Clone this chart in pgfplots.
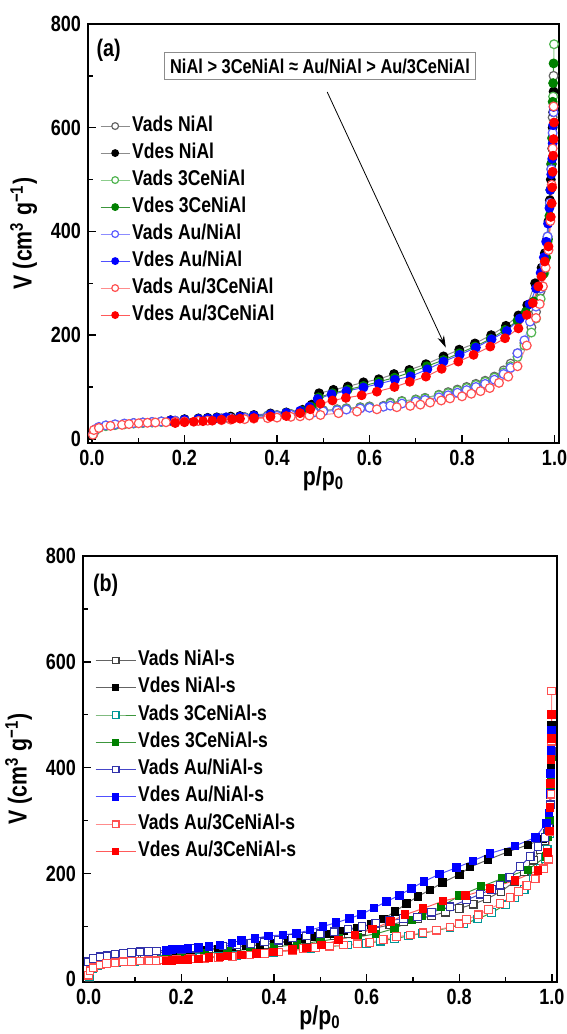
\documentclass[border=0pt]{standalone}
\usepackage{fontspec}
\setmainfont{Liberation Sans}[FakeStretch=0.82]
\usepackage{pgfplots}
\pgfplotsset{compat=1.18}
\usetikzlibrary{arrows.meta}

\definecolor{gryL}{RGB}{140,140,140}
\definecolor{gryM}{RGB}{100,100,100}
\definecolor{grnL}{RGB}{140,205,140}
\definecolor{grnM}{RGB}{80,180,80}
\definecolor{grnD}{RGB}{0,128,0}
\definecolor{grnLine}{RGB}{60,150,60}
\definecolor{bluL}{RGB}{140,140,255}
\definecolor{bluM}{RGB}{90,90,255}
\definecolor{bluLine}{RGB}{80,80,255}
\definecolor{redL}{RGB}{255,140,140}
\definecolor{redM}{RGB}{255,80,80}
\definecolor{redLine}{RGB}{255,90,90}
\definecolor{teal2}{RGB}{0,150,150}
\definecolor{navy2}{RGB}{50,50,170}
\definecolor{navyLine}{RGB}{70,70,200}

\pgfplotsset{
  myaxis/.style={
    scale only axis,
    axis line style={line width=0.8pt},
    tick align=inside,
    xtick pos=bottom, ytick pos=left,
    ymax=800,
    xtick={0,0.2,0.4,0.6,0.8,1}, ytick={0,200,400,600,800},
    minor x tick num=1, minor y tick num=1,
    major tick length=4pt, minor tick length=2.5pt,
    every tick/.style={line width=0.7pt, black},
    /pgf/number format/assume math mode=true,
    x tick label style={/pgf/number format/.cd, fixed, fixed zerofill, precision=1},
    tick label style={font=\fontsize{11}{13}\selectfont\bfseries},
    label style={font=\fontsize{13}{15}\selectfont\bfseries},
    xlabel={p/p\textsubscript{0}},
    ylabel={V (cm\textsuperscript{3} g\textsuperscript{−1})},
    xlabel style={yshift=6.5pt},
    legend cell align=left,
    legend style={draw=none, fill=none, inner sep=0pt,
      font=\fontsize{10.7}{12}\selectfont\bfseries, row sep=1.5pt,
      nodes={inner sep=1pt, text height=7.5pt, text depth=2.5pt}},
  },
  sa/.style 2 args={color=#1, line width=0.5pt, mark=*, mark size=2.2pt, mark options={fill=white, draw=#2, line width=0.6pt}},
  sd/.style 2 args={color=#1, line width=0.5pt, mark=*, mark size=2.2pt, mark options={fill=#2, draw=#2}},
  qa/.style 2 args={color=#1, line width=0.5pt, mark=square*, mark size=1.9pt, mark options={fill=white, draw=#2, line width=0.6pt}},
  qd/.style 2 args={color=#1, line width=0.5pt, mark=square*, mark size=1.9pt, mark options={fill=#2, draw=#2}},
}

\begin{document}
\begin{tikzpicture}[font=\bfseries]
\useasboundingbox (0,0) rectangle (283.5pt,517pt);

% ---------------- panel (a) ----------------
\begin{axis}[myaxis,
  at={(44pt,295.5pt)}, anchor=south west,
  width=235.5pt, height=209.5pt,
  xmin=-0.0086, xmax=1.0097, ymin=-8,
  legend style={at={(0.025,0.786)}, anchor=north west},
  legend image code/.code={\draw[mark repeat=2,mark phase=2,mark size=1.7pt] plot coordinates {(0pt,0pt) (7.25pt,0pt) (14.5pt,0pt)};},
]
\addplot[sa={gryL}{gryM}] coordinates {
(0.003,10)(0.008,18)(0.015,22)(0.03,25.5)(0.05,27.5)(0.07,29)(0.09,30.5)(0.11,31.5)(0.13,32.5)(0.15,33.5)
(0.18,35)(0.2,36)(0.23,37)(0.25,38)(0.28,39.5)(0.3,40.5)(0.33,42)(0.35,43)(0.38,45)(0.4,46)
(0.43,48)(0.45,50)(0.48,53)(0.5,55)(0.53,57)(0.55,59)(0.58,61)(0.6,62.5)(0.63,63.5)(0.645,70)
(0.67,73)(0.7,76)(0.72,79)(0.75,85)(0.77,90)(0.79,95)(0.81,100)(0.83,106)(0.85,112)(0.87,120)
(0.89,132)(0.905,145)(0.92,165)(0.935,185)(0.95,215)(0.96,245)(0.97,285)(0.978,330)(0.985,390)
(0.99,460)(0.993,530)(0.996,620)(0.998,700)};
\addlegendentry{Vads NiAl}
\addplot[sd={gryL}{black}] coordinates {
(0.998,670)(0.997,630)(0.996,600)(0.995,560)(0.994,530)(0.992,500)(0.99,460)(0.987,420)(0.983,383)
(0.979,358)(0.972,330)(0.958,300)(0.941,258)(0.922,238)(0.895,218)(0.863,200)(0.828,184)(0.794,172)
(0.76,159)(0.722,144)(0.686,133)(0.653,125)(0.62,115)(0.587,109)(0.553,101)(0.522,94.5)(0.491,88)
(0.475,66)(0.455,56)(0.42,51)(0.386,49)(0.35,46)(0.32,44)(0.3,43)(0.27,41.5)(0.25,40.5)(0.23,39.5)
(0.2,38)(0.17,36)};
\addlegendentry{Vdes NiAl}
\addplot[sa={grnL}{grnM}] coordinates {
(0.003,9)(0.008,17)(0.015,21)(0.03,24.5)(0.05,26.5)(0.07,28)(0.09,29.5)(0.11,30.5)(0.13,31.5)(0.15,32.5)
(0.18,34)(0.2,35)(0.23,36)(0.25,37)(0.28,38.5)(0.3,39.5)(0.33,41)(0.35,42)(0.38,44)(0.4,45)
(0.43,47)(0.45,49)(0.48,52)(0.5,54)(0.53,56)(0.55,58)(0.58,60)(0.6,61.5)(0.63,62.5)(0.645,68)
(0.67,72)(0.7,75)(0.72,78)(0.75,84)(0.77,88)(0.79,93)(0.81,98)(0.83,104)(0.85,110)(0.87,118)
(0.89,128)(0.905,140)(0.92,158)(0.935,180)(0.95,205)(0.96,232)(0.97,270)(0.978,320)(0.985,380)
(0.99,450)(0.993,520)(0.995,580)(0.997,660)(0.999,761)};
\addlegendentry{Vads 3CeNiAl}
\addplot[sd={grnLine}{grnD}] coordinates {
(0.998,724)(0.997,686)(0.996,650)(0.995,580)(0.993,530)(0.991,480)(0.989,430)(0.986,385)(0.982,350)
(0.976,318)(0.968,290)(0.955,265)(0.938,245)(0.92,228)(0.893,210)(0.862,193)(0.828,178)(0.794,165)
(0.76,152)(0.724,140)(0.688,128)(0.654,118)(0.62,110)(0.587,102)(0.553,95)(0.52,88)(0.49,80)
(0.475,62)(0.455,54)(0.42,50)(0.386,47)(0.35,44.5)(0.32,42.5)(0.29,41)(0.27,40)(0.25,39)(0.23,38)
(0.2,36.5)(0.17,35)};
\addlegendentry{Vdes 3CeNiAl}
\addplot[sa={bluL}{bluM}] coordinates {
(0.003,11)(0.008,19)(0.015,23)(0.03,26)(0.05,28)(0.07,29.5)(0.09,30.5)(0.11,31.5)(0.13,32.5)(0.15,33.5)
(0.18,35)(0.2,36)(0.23,37)(0.25,38)(0.28,39)(0.3,40)(0.33,41)(0.35,42)(0.38,43.5)(0.4,44.5)
(0.43,46.5)(0.45,48)(0.48,51)(0.5,53)(0.53,55)(0.55,56.5)(0.58,58.5)(0.6,60)(0.63,62)(0.645,64)
(0.67,68)(0.7,72)(0.72,75)(0.75,80)(0.77,84)(0.79,89)(0.81,94)(0.83,100)(0.85,106)(0.87,114)
(0.89,125)(0.905,137)(0.92,165)(0.935,190)(0.947,226)(0.96,255)(0.97,290)(0.978,335)(0.985,390)
(0.99,455)(0.993,520)(0.996,590)(0.998,630)};
\addlegendentry{Vads Au/NiAl}
\addplot[sd={bluLine}{blue}] coordinates {
(0.998,640)(0.997,605)(0.996,570)(0.995,540)(0.993,510)(0.991,480)(0.989,445)(0.986,415)(0.982,380)
(0.977,350)(0.97,320)(0.96,290)(0.946,260)(0.925,232)(0.897,208)(0.864,192)(0.83,176)(0.795,162)
(0.76,149)(0.725,134)(0.689,120.5)(0.655,114)(0.62,106)(0.587,99)(0.55,92)(0.518,86)(0.488,77)
(0.47,62)(0.45,54)(0.42,50)(0.386,47.5)(0.35,45)(0.32,43)(0.29,41.5)(0.27,40.5)(0.25,39.5)(0.23,38.5)
(0.2,37)(0.17,35.5)};
\addlegendentry{Vdes Au/NiAl}
\addplot[sa={redL}{redM}] coordinates {
(0.002,8)(0.004,17)(0.015,21)(0.04,25)(0.065,27)(0.08,28.5)(0.101,30)(0.12,31)(0.137,31.5)(0.16,32)
(0.18,33)(0.2,33.5)(0.23,34.5)(0.25,35)(0.28,36)(0.3,37)(0.33,38)(0.35,39)(0.38,40)(0.4,41)
(0.43,42.5)(0.45,43.5)(0.47,45)(0.494,46)(0.533,49.5)(0.573,52.7)(0.616,57)(0.659,61)(0.688,63.6)
(0.71,66)(0.731,70)(0.755,74)(0.774,78)(0.8,82)(0.82,87)(0.84,92)(0.86,98)(0.88,108)(0.9,120)
(0.92,140)(0.94,180)(0.96,233)(0.968,260)(0.975,294)(0.981,330)(0.987,364)(0.991,420)(0.994,490)
(0.996,560)(0.998,641)};
\addlegendentry{Vads Au/3CeNiAl}
\addplot[sd={redLine}{red}] coordinates {
(0.999,610)(0.998,578)(0.997,546)(0.996,515)(0.995,485)(0.994,454)(0.992,428)(0.987,371)(0.979,342)
(0.972,313)(0.965,294)(0.953,262)(0.94,239)(0.922,213)(0.893,194)(0.861,178)(0.825,162)(0.792,149)
(0.756,135)(0.722,120)(0.687,110)(0.654,100)(0.616,91)(0.583,84)(0.549,79)(0.52,74)(0.494,68)
(0.472,57)(0.45,49.5)(0.42,44)(0.386,43)(0.35,40)(0.32,39)(0.303,38)(0.28,37)(0.26,35)(0.24,34)
(0.22,33)(0.2,32)(0.18,30.5)};
\addlegendentry{Vdes Au/3CeNiAl}

\node[font=\fontsize{12}{14}\selectfont\bfseries] at (axis cs:0.036,750) {(a)};
\node[draw=gryL, line width=0.6pt, fill=white, inner xsep=3pt, inner ysep=3pt,
      font=\fontsize{10}{12}\selectfont\bfseries] at (axis cs:0.493,719)
      {NiAl > 3CeNiAl ≈ Au/NiAl > Au/3CeNiAl};
\draw[line width=0.4pt, -{Stealth[length=6pt,width=3.5pt]}] (axis cs:0.5085,669) -- (axis cs:0.765,176);
\end{axis}

% ---------------- panel (b) ----------------
\begin{axis}[myaxis,
  at={(41.5pt,26pt)}, anchor=south west,
  width=237pt, height=213pt,
  xmin=-0.012, xmax=1.011, ymin=-5,
  legend style={at={(0.025,0.784)}, anchor=north west, row sep=1.65pt},
  legend image code/.code={\draw[mark repeat=2,mark phase=2,mark size=1.6pt] plot coordinates {(0pt,0pt) (10pt,0pt) (20pt,0pt)};},
]
\addplot[qa={gryM}{black!75}] coordinates {
(0.002,3)(0.008,30)(0.02,36)(0.04,40)(0.06,43)(0.08,45)(0.1,47)(0.12,48.5)(0.14,50)(0.17,52)
(0.2,54)(0.23,56)(0.26,58)(0.29,60)(0.32,62)(0.35,64)(0.38,66)(0.41,69)(0.44,72)(0.47,75)
(0.5,78)(0.53,82)(0.56,86)(0.59,91)(0.62,97)(0.65,103)(0.68,109)(0.71,114)(0.74,120)(0.77,127)
(0.8,134)(0.83,142)(0.86,152)(0.89,166)(0.92,185)(0.94,203)(0.96,225)(0.975,245)(0.985,262)
(0.99,275)(0.995,300)(0.997,350)(0.998,420)(0.999,470)};
\addlegendentry{Vads NiAl-s}
\addplot[qd={gryM}{black}] coordinates {
(0.999,480)(0.998,400)(0.997,330)(0.995,295)(0.98,265)(0.948,254)(0.905,241)(0.862,226)(0.823,212)
(0.8,198)(0.764,183)(0.737,169)(0.711,157)(0.686,143)(0.661,128)(0.636,114)(0.61,104)(0.58,97)
(0.55,91)(0.52,86)(0.49,81)(0.46,77)(0.43,73)(0.4,68)(0.37,65)(0.34,63)(0.31,60)(0.28,57)
(0.25,54)(0.22,51)(0.19,49)(0.167,46)};
\addlegendentry{Vdes NiAl-s}
\addplot[qa={grnLine}{teal2}] coordinates {
(0.002,5)(0.008,20)(0.02,26)(0.04,29)(0.06,31)(0.08,33)(0.1,34)(0.13,35.5)(0.16,37)(0.2,39)
(0.24,41)(0.28,43)(0.32,45)(0.36,48)(0.4,51)(0.44,55)(0.48,58)(0.52,62)(0.56,65)(0.6,68)
(0.63,72)(0.66,77)(0.69,82)(0.72,87)(0.75,92)(0.78,98)(0.81,105)(0.84,114)(0.87,126)(0.9,141)
(0.92,155)(0.94,170)(0.96,190)(0.975,210)(0.985,228)(0.99,245)(0.995,275)(0.997,330)(0.998,380)
(0.999,430)};
\addlegendentry{Vads 3CeNiAl-s}
\addplot[qd={grnLine}{grnD}] coordinates {
(0.999,420)(0.998,380)(0.997,355)(0.995,300)(0.99,270)(0.987,232)(0.948,207)(0.894,191)(0.847,175)
(0.8,158)(0.761,137)(0.72,120)(0.698,112)(0.66,96)(0.62,86)(0.58,80)(0.539,77.5)(0.5,72)(0.45,66)
(0.4,61)(0.35,57)(0.3,53)(0.25,49)(0.2,45)(0.167,42)};
\addlegendentry{Vdes 3CeNiAl-s}
\addplot[qa={navyLine}{navy2}] coordinates {
(0.0,33)(0.01,39.5)(0.025,42.6)(0.04,44.6)(0.057,47.7)(0.075,49)(0.093,51)(0.111,52.2)(0.129,52.5)
(0.147,53.5)(0.17,55)(0.2,57)(0.23,59)(0.26,61)(0.29,63)(0.32,65)(0.35,68)(0.38,71)(0.41,74)
(0.44,78)(0.47,82)(0.5,86)(0.53,90)(0.56,95)(0.59,100)(0.62,106)(0.65,111)(0.68,115)(0.71,118)
(0.74,127)(0.78,137)(0.816,150)(0.845,161)(0.87,170)(0.888,178)(0.909,193)(0.931,213)(0.953,232)
(0.97,251)(0.985,268)(0.993,285)(0.997,330)(0.999,430)};
\addlegendentry{Vads Au/NiAl-s}
\addplot[qd={bluLine}{blue}] coordinates {
(0.999,470)(0.998,433)(0.997,389)(0.996,351)(0.994,314)(0.988,295)(0.964,268)(0.92,252)(0.866,238)
(0.83,224)(0.794,211)(0.758,199)(0.724,185)(0.697,172)(0.671,159)(0.643,147)(0.616,135)(0.589,123)
(0.563,115)(0.534,107)(0.506,100)(0.478,93)(0.449,87)(0.42,84)(0.388,82)(0.359,77.5)(0.33,73)
(0.31,69)(0.284,65)(0.26,62)(0.237,60)(0.215,58)(0.197,57)(0.18,56)(0.167,55)};
\addlegendentry{Vdes Au/NiAl-s}
\addplot[qa={redL}{redM}] coordinates {
(0.0,8)(0.003,16)(0.01,22)(0.025,27)(0.039,30)(0.057,31.4)(0.075,33.3)(0.093,34)(0.111,34.6)(0.13,35)
(0.147,35.2)(0.162,36.5)(0.19,37.5)(0.22,39)(0.25,40)(0.28,41.5)(0.31,43)(0.348,45.9)(0.38,48.5)
(0.41,51.5)(0.44,55)(0.463,58)(0.49,60)(0.52,62.5)(0.55,64.8)(0.58,67)(0.607,70)(0.636,75.6)
(0.665,80.6)(0.694,83.8)(0.722,88)(0.751,93)(0.78,99)(0.8,105)(0.816,113)(0.841,122)(0.863,132)
(0.888,143)(0.91,155)(0.928,166)(0.946,177)(0.964,190)(0.982,209)(0.993,227)(0.996,280)(0.998,350)
(0.999,450)(0.9995,545)};
\addlegendentry{Vads Au/3CeNiAl-s}
\addplot[qd={redLine}{red}] coordinates {
(0.9995,500)(0.999,455)(0.998,415)(0.997,370)(0.996,325)(0.995,280)(0.991,240)(0.97,206)(0.92,187)
(0.866,172)(0.814,158)(0.765,148)(0.722,134)(0.683,122)(0.651,109)(0.613,95)(0.575,84)(0.54,74)
(0.503,65)(0.47,59)(0.44,56)(0.399,52)(0.363,49)(0.33,46)(0.3,44)(0.284,42.3)(0.26,41)(0.237,38.5)
(0.215,37.5)(0.197,36.5)(0.18,35.5)(0.167,34.6)};
\addlegendentry{Vdes Au/3CeNiAl-s}

\node[font=\fontsize{12}{14}\selectfont\bfseries] at (axis cs:0.037,745) {(b)};
\end{axis}
\end{tikzpicture}
\end{document}
